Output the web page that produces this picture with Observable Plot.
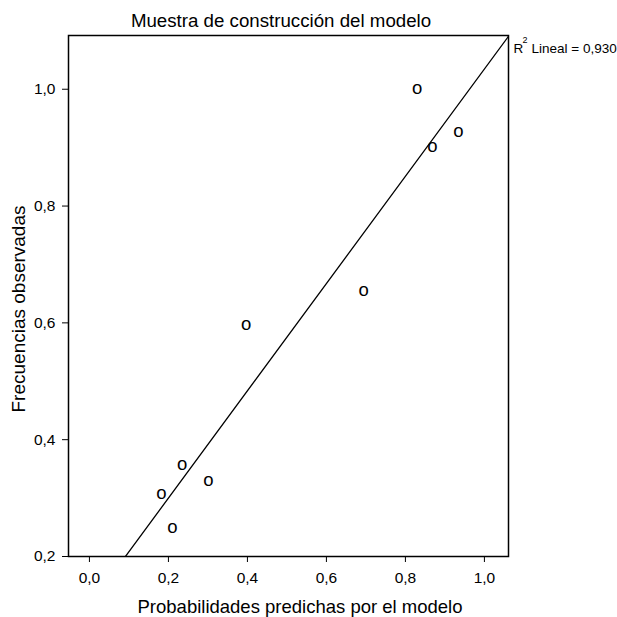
<!DOCTYPE html>
<html><head><meta charset="utf-8">
<script src="https://cdn.jsdelivr.net/npm/d3@7"></script>
<script src="https://cdn.jsdelivr.net/npm/@observablehq/plot@0.6"></script>
<style>body{margin:0;background:#fff}</style>
</head><body><div id="chart"></div>
<script>
const predicted = [0.830, 0.934, 0.868, 0.694, 0.397, 0.235, 0.182, 0.301, 0.210];
const observed  = [1.000, 0.926, 0.901, 0.654, 0.597, 0.356, 0.307, 0.329, 0.248];
const xTicks = [0, 0.2, 0.4, 0.6, 0.8, 1.0];
const yTicks = [0.2, 0.4, 0.6, 0.8, 1.0];
const r2Value = 0.930;
const title = "Muestra de construcción del modelo";
const xLabel = "Probabilidades predichas por el modelo";
const yLabel = "Frecuencias observadas";
const xDomain = [-0.053, 1.061];
const yDomain = [0.2, 1.092];

const points = predicted.map((p, i) => ({p, o: observed[i]}));
const mx = d3.mean(predicted), my = d3.mean(observed);
const slope = d3.sum(points, d => (d.p - mx) * (d.o - my)) / d3.sum(points, d => (d.p - mx) ** 2);
const intercept = my - slope * mx;
const fitLine = xDomain.map(x => ({x, y: intercept + slope * x}));
const fmt = d => d.toFixed(1).replace(".", ",");
const r2Text = "Lineal = " + r2Value.toFixed(3).replace(".", ",");

const chart = Plot.plot({
  width: 617, height: 617,
  marginLeft: 68, marginRight: 109, marginTop: 35, marginBottom: 61,
  style: {fontFamily: "'Liberation Sans', Arial, sans-serif", background: "#fff", color: "#000"},
  x: {domain: xDomain},
  y: {domain: yDomain},
  marks: [
    Plot.axisX({ticks: xTicks, tickFormat: fmt, tickSize: 6, tickPadding: 9, fontSize: 15.5, label: null, stroke: "#000", fill: "#000"}),
    Plot.axisY({ticks: yTicks, tickFormat: fmt, tickSize: 6, tickPadding: 7, fontSize: 15.5, label: null, stroke: "#000", fill: "#000"}),
    Plot.line(fitLine, {x: "x", y: "y", stroke: "#000", strokeWidth: 1.3, clip: true}),
    Plot.text(points, {x: "p", y: "o", text: () => "o", fontSize: 18.5, fill: "#000", lineAnchor: "middle", dy: -1}),
    Plot.frame({stroke: "#000", strokeWidth: 1.5}),
    Plot.text([title], {frameAnchor: "top", textAnchor: "middle", dx: -7.5, dy: -14, lineAnchor: "middle", fontSize: 18.7, fill: "#000"}),
    Plot.text([xLabel], {frameAnchor: "bottom", textAnchor: "middle", dx: 11.5, dy: 51, lineAnchor: "middle", fontSize: 18.5, fill: "#000"}),
    Plot.text([yLabel], {frameAnchor: "left", textAnchor: "middle", dx: -49.1, dy: 13, rotate: -90, lineAnchor: "middle", fontSize: 19, fill: "#000"}),
    Plot.text(["R"], {frameAnchor: "top-right", dx: 5, dy: 12.7, textAnchor: "start", lineAnchor: "middle", fontSize: 13.5, fill: "#000"}),
    Plot.text(["2"], {frameAnchor: "top-right", dx: 14, dy: 5.1, textAnchor: "start", lineAnchor: "middle", fontSize: 9, fill: "#000"}),
    Plot.text([r2Text], {frameAnchor: "top-right", dx: 23, dy: 12.7, textAnchor: "start", lineAnchor: "middle", fontSize: 13.5, fill: "#000"})
  ]
});
document.getElementById("chart").appendChild(chart);
</script>
</body></html>
